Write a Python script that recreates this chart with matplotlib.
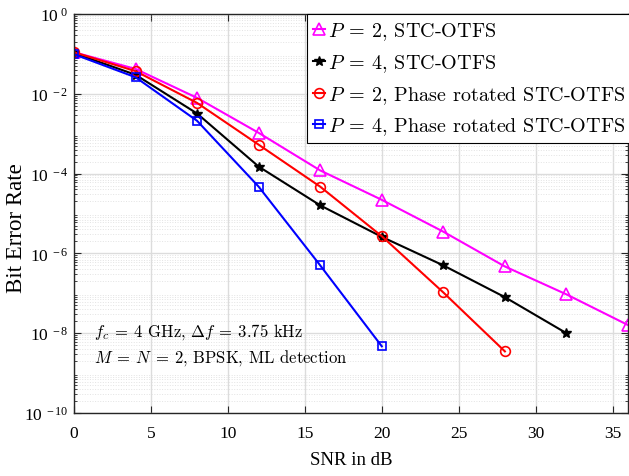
import numpy as np
import matplotlib
matplotlib.use("Agg")
import matplotlib.pyplot as plt
from matplotlib.ticker import LogLocator, FixedLocator, FuncFormatter, NullFormatter

plt.rcParams['font.family'] = ['Liberation Serif', 'DejaVu Serif']
plt.rcParams['mathtext.fontset'] = 'stix'

# ---- data ----
snr = [0, 4, 8, 12, 16, 20, 24, 28, 32, 36]
ber_p2_stc = [0.11, 0.042, 7.9e-3, 1.05e-3, 1.2e-4, 2.2e-5, 3.5e-6, 4.7e-7, 9.4e-8, 1.6e-8]
ber_p4_stc = [0.105, 0.030, 3.2e-3, 1.5e-4, 1.6e-5, 2.6e-6, 5.0e-7, 8.0e-8, 1.0e-8]
ber_p2_rot = [0.11, 0.037, 5.9e-3, 5.3e-4, 4.7e-5, 2.7e-6, 1.05e-7, 3.5e-9]
ber_p4_rot = [0.098, 0.026, 2.1e-3, 4.7e-5, 5.0e-7, 4.7e-9]
labels = [r'$P\:=\:2$, STC-OTFS', r'$P\:=\:4$, STC-OTFS',
          r'$P\:=\:2$, Phase rotated STC-OTFS', r'$P\:=\:4$, Phase rotated STC-OTFS']
xticks = [0, 5, 10, 15, 20, 25, 30, 35]
ydecades = [0, -2, -4, -6, -8, -10]

W, H = 629, 477
fig = plt.figure(figsize=(W/100, H/100), dpi=100)
L, R, T, B = 74, 628, 15, 414
ax = fig.add_axes([L/W, 1 - B/H, (R - L)/W, (B - T)/H])

ax.plot(snr[:len(ber_p2_stc)], ber_p2_stc, color='#ff00ff', lw=1.5, marker='^',
        ms=8, mfc='none', mew=1.2, label=labels[0])
ax.plot(snr[:len(ber_p4_stc)], ber_p4_stc, color='black', lw=1.5, marker='*',
        ms=7, mfc='black', mew=1.0, label=labels[1])
ax.plot(snr[:len(ber_p2_rot)], ber_p2_rot, color='red', lw=1.5, marker='o',
        ms=7, mfc='none', mew=1.2, label=labels[2])
ax.plot(snr[:len(ber_p4_rot)], ber_p4_rot, color='blue', lw=1.5, marker='s',
        ms=5.5, mfc='none', mew=1.2, label=labels[3])

ax.set_yscale('log')
ax.set_xlim(0, 36)
ax.set_ylim(1e-10, 1)
ax.xaxis.set_major_locator(FixedLocator(xticks))
ax.yaxis.set_major_locator(FixedLocator([10.0**d for d in ydecades]))
ax.yaxis.set_minor_locator(LogLocator(base=10, subs=np.arange(2, 10), numticks=50))
ax.yaxis.set_minor_formatter(NullFormatter())

def yfmt(v, pos):
    e = int(round(np.log10(v)))
    if e == 0:
        return r'$\mathregular{10^{\ 0}}$'
    return r'$\mathregular{10^{\ -%d}}$' % (-e)
ax.yaxis.set_major_formatter(FuncFormatter(yfmt))

ax.tick_params(which='both', direction='in', top=True, right=True, colors='#262626',
               labelcolor='black')
ax.tick_params(which='major', length=5, labelsize=12.5)
ax.tick_params(axis='x', which='major', pad=9)
ax.tick_params(axis='y', which='major', pad=4)
ax.tick_params(which='minor', length=2.5)
for s in ax.spines.values():
    s.set_color('#262626')
    s.set_linewidth(1.0)

ax.grid(True, which='major', color='#dcdcdc', lw=1.0, ls='-')
ax.grid(True, which='minor', axis='y', color='#e3e3e3', lw=0.7, ls=':')
ax.set_axisbelow(True)

ax.set_xlabel('SNR in dB', fontsize=13.5, labelpad=7)
ax.set_ylabel('Bit Error Rate', fontsize=16.5)
ax.yaxis.set_label_coords((27 - L)/(R - L), 1 - (228 - T)/(B - T))

leg = ax.legend(loc='upper left', bbox_to_anchor=((307 - L)/(R - L), 1.0),
                borderaxespad=0, prop={'family': 'cmr10', 'size': 14.5},
                handlelength=0.6, handletextpad=0.15, labelspacing=0.5,
                borderpad=0.3, fancybox=False, framealpha=1, edgecolor='black')
leg.get_frame().set_linewidth(0.8)
for t in leg.get_texts():
    t.set_math_fontfamily('cm')

ax.text(0.036, 0.195, r'$f_c\:=\:4$ GHz, $\Delta f\:=\:3.75$ kHz', transform=ax.transAxes,
        family='cmr10', fontsize=12, math_fontfamily='cm', va='baseline')
ax.text(0.036, 0.13, r'$M\:=\:N\:=\:2$, BPSK, ML detection', transform=ax.transAxes,
        family='cmr10', fontsize=12, math_fontfamily='cm', va='baseline')

fig.savefig('out.png', dpi=100)
